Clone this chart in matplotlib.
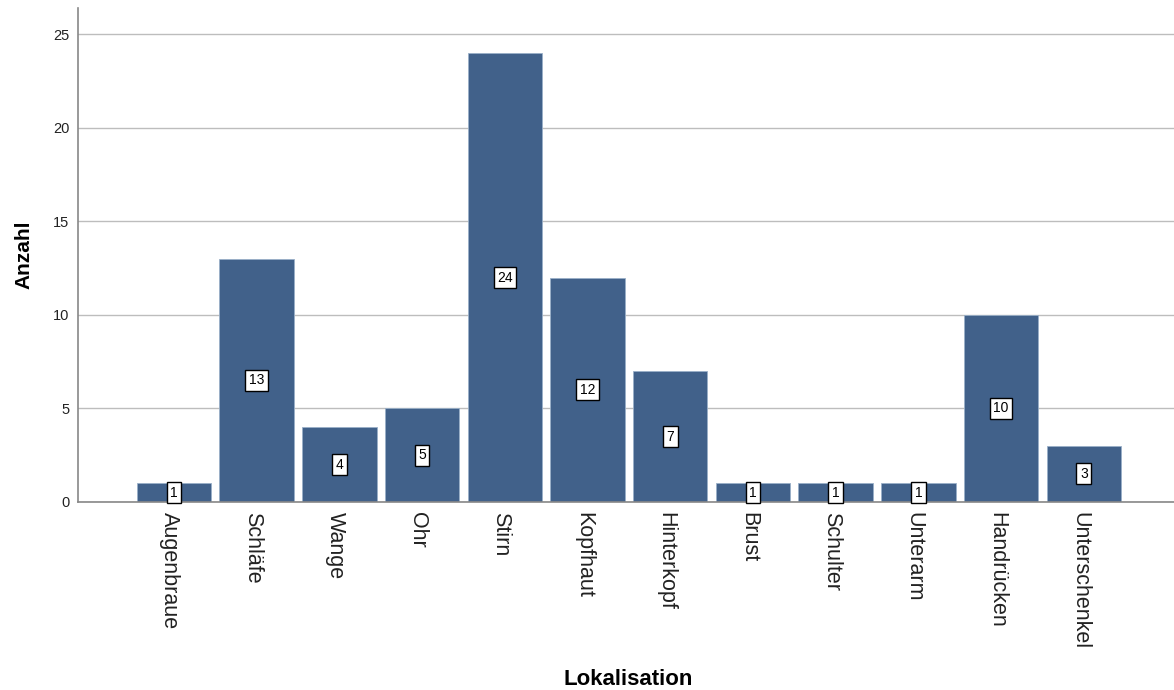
import matplotlib
matplotlib.use("Agg")
import matplotlib.pyplot as plt

plt.rcParams['font.family'] = ['Liberation Sans', 'DejaVu Sans']

# Häufigkeit je Lokalisation
kategorien = ['Augenbraue', 'Schläfe', 'Wange', 'Ohr', 'Stirn', 'Kopfhaut',
              'Hinterkopf', 'Brust', 'Schulter', 'Unterarm', 'Handrücken',
              'Unterschenkel']
anzahl = [1, 13, 4, 5, 24, 12, 7, 1, 1, 1, 10, 3]
y_ticks = [0, 5, 10, 15, 20, 25]

bar_color = '#41618a'

fig = plt.figure(figsize=(11.74, 6.9), dpi=100)
ax = fig.add_axes([0.0664, 0.2725, 0.9336, 0.7155])

x = list(range(len(kategorien)))
ax.bar(x, anzahl, width=0.9, color=bar_color, edgecolor='#9ab0c8',
       linewidth=0.6, zorder=2)

for xi, v in zip(x, anzahl):
    ax.text(xi, v / 2, str(v), ha='center', va='center', fontsize=10,
            zorder=3,
            bbox=dict(boxstyle='square,pad=0.25', facecolor='white',
                      edgecolor='black', linewidth=1))

ax.set_xlim(-1.16, 12.09)
ax.set_ylim(0, 26.4)
ax.set_yticks(y_ticks)
ax.yaxis.grid(True, color='#bdbdbd', linewidth=1, zorder=0)
ax.set_axisbelow(True)

ax.set_xticks([xi - 0.05 for xi in x])
ax.set_xticklabels(kategorien, rotation=-90, fontsize=15.5, color='#222222')
ax.tick_params(axis='x', length=0, pad=7)
ax.tick_params(axis='y', length=0, pad=6, labelsize=10.5, labelcolor='#222222')

for s in ['top', 'right']:
    ax.spines[s].set_visible(False)
ax.spines['left'].set_color('#888888')
ax.spines['bottom'].set_color('#888888')
ax.spines['left'].set_linewidth(1.2)
ax.spines['bottom'].set_linewidth(1.2)

ax.set_ylabel('Anzahl', fontsize=15, fontweight='bold', labelpad=14)
fig.text(0.535, 0.0, 'Lokalisation', ha='center', va='bottom',
         fontsize=16, fontweight='bold')

fig.savefig('out.png', dpi=100)
